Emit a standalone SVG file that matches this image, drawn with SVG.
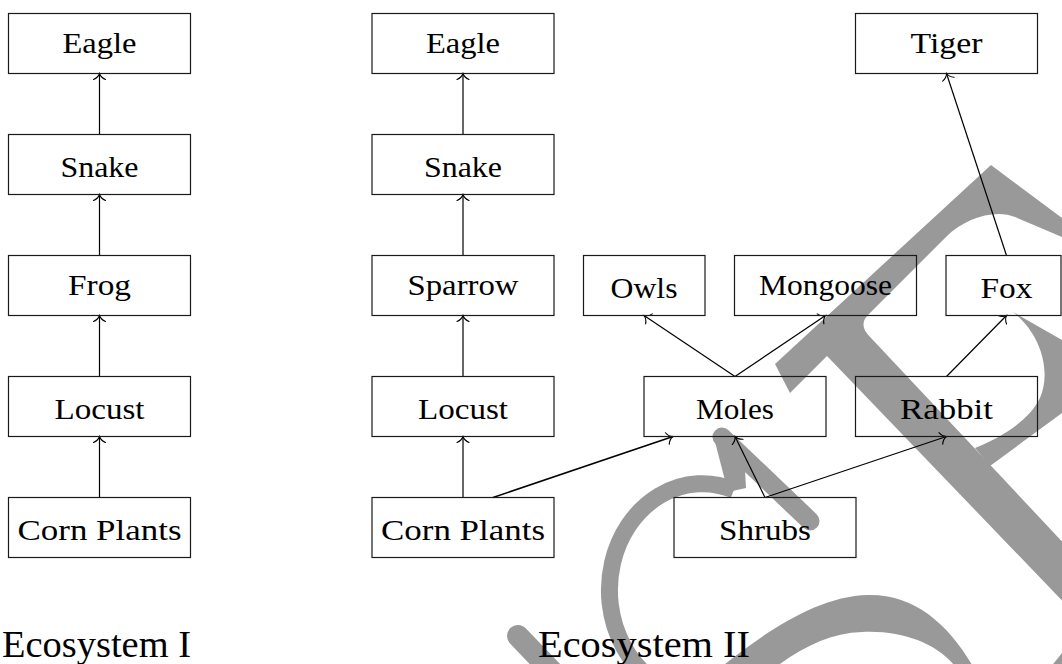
<svg xmlns="http://www.w3.org/2000/svg" width="1062" height="664" viewBox="0 0 1062 664">
<style>
.wm{fill:#999999;stroke:none}
.wms{fill:none;stroke:#999999}
.box{fill:none;stroke:#1a1a1a;stroke-width:1.2}
.lbl{font-family:"Liberation Serif","Times New Roman",serif;font-size:30px;fill:#000;text-anchor:middle}
.ttl{font-family:"Liberation Serif","Times New Roman",serif;font-size:37px;fill:#000}
.edge{fill:none;stroke:#000;stroke-width:1.2;marker-end:url(#arr)}
</style>
<defs>
<marker id="arr" markerUnits="userSpaceOnUse" viewBox="-8 -8 10 16" refX="0" refY="0" markerWidth="10" markerHeight="16" orient="auto" overflow="visible">
<path d="M -6 -6 C -4.5 -2.5 -1.8 -0.6 0 0 C -1.8 0.6 -4.5 2.5 -6 6" fill="none" stroke="#000" stroke-width="1.1" stroke-linecap="round"/>
</marker>
</defs>
<g id="watermark">
<path class="wms" d="M 518 636 L 565 685" stroke-width="22" stroke-linecap="round"/>
<path class="wms" d="M 734 490 A 93 106.5 0 1 0 686 695" stroke-width="17"/>
<path class="wms" d="M 722 437 L 810 521" stroke-width="19" stroke-linecap="round"/>
<path class="wm" d="M 713 434 L 745 470 L 746 488 L 728 492 Z"/>
<path class="wm" d="M 715 672 C 760 636 815 596 868 595 C 915 594 950 625 975 670 L 958 670 C 940 645 905 630 862 632 C 830 633 800 648 772 670 Z"/>
<path class="wm" d="M 775 364 L 991 165 L 1070 224 L 1070 240 L 1062 237 L 1015 217 C 995 209 965 218 946 237 L 868 315 Q 859 324 868 334.7 L 1100 582 L 1100 640 L 827 356 L 790 393 Z"/>
<path class="wm" d="M 1013 312 C 1040 333 1052 370 1040 398 C 1028 422 1000 438 975 448 L 990 466 L 1062 413 L 1100 400 L 1100 330 L 1062 340 Z"/>
<path class="wm" d="M 1050 668 L 1066 648 L 1066 668 Z"/>
</g>
<g id="connectors">
<path class="edge" d="M 99.5 134.5 L 99.5 73.5"/>
<path class="edge" d="M 99.5 255.5 L 99.5 194.5"/>
<path class="edge" d="M 99.5 376.5 L 99.5 315.5"/>
<path class="edge" d="M 99.5 497.5 L 99.5 436.5"/>
<path class="edge" d="M 463 134.5 L 463 73.5"/>
<path class="edge" d="M 463 255.5 L 463 194.5"/>
<path class="edge" d="M 463 376.5 L 463 315.5"/>
<path class="edge" d="M 463 497.5 L 463 436.5"/>
<path class="edge" style="stroke-width:1.6" d="M 493 497.5 L 673 436.5"/>
<path class="edge" d="M 765 497.5 L 735 436.5"/>
<path class="edge" d="M 765 497.5 L 946.5 436.5"/>
<path class="edge" d="M 735 376.5 L 644 315.5"/>
<path class="edge" d="M 735 376.5 L 825.5 315.5"/>
<path class="edge" d="M 946.5 376.5 L 1006.5 315.5"/>
<path class="edge" d="M 1006.5 255.5 L 946.5 73.5"/>
</g>
<g id="eco1-eagle"><rect class="box" x="8.5" y="13.5" width="182" height="60"/><text class="lbl" x="99.5" y="52.5" textLength="74" lengthAdjust="spacingAndGlyphs">Eagle</text></g>
<g id="eco1-snake"><rect class="box" x="8.5" y="134.5" width="182" height="60"/><text class="lbl" x="99.5" y="176.5" textLength="78" lengthAdjust="spacingAndGlyphs">Snake</text></g>
<g id="eco1-frog"><rect class="box" x="8.5" y="255.5" width="182" height="60"/><text class="lbl" x="99.5" y="294.5" textLength="63" lengthAdjust="spacingAndGlyphs">Frog</text></g>
<g id="eco1-locust"><rect class="box" x="8.5" y="376.5" width="182" height="60"/><text class="lbl" x="99.5" y="418.5" textLength="90" lengthAdjust="spacingAndGlyphs">Locust</text></g>
<g id="eco1-corn"><rect class="box" x="8.5" y="497.5" width="182" height="60"/><text class="lbl" x="99.5" y="539.5" textLength="164" lengthAdjust="spacingAndGlyphs">Corn Plants</text></g>
<g id="eco2-eagle"><rect class="box" x="372" y="13.5" width="182" height="60"/><text class="lbl" x="463" y="52.5" textLength="74" lengthAdjust="spacingAndGlyphs">Eagle</text></g>
<g id="eco2-snake"><rect class="box" x="372" y="134.5" width="182" height="60"/><text class="lbl" x="463" y="176.5" textLength="78" lengthAdjust="spacingAndGlyphs">Snake</text></g>
<g id="eco2-sparrow"><rect class="box" x="372" y="255.5" width="182" height="60"/><text class="lbl" x="463" y="294.5" textLength="111" lengthAdjust="spacingAndGlyphs">Sparrow</text></g>
<g id="eco2-locust"><rect class="box" x="372" y="376.5" width="182" height="60"/><text class="lbl" x="463" y="418.5" textLength="90" lengthAdjust="spacingAndGlyphs">Locust</text></g>
<g id="eco2-corn"><rect class="box" x="372" y="497.5" width="182" height="60"/><text class="lbl" x="463" y="539.5" textLength="164" lengthAdjust="spacingAndGlyphs">Corn Plants</text></g>
<g id="eco2-owls"><rect class="box" x="583.5" y="255.5" width="121.5" height="60"/><text class="lbl" x="644" y="297.5" textLength="67" lengthAdjust="spacingAndGlyphs">Owls</text></g>
<g id="eco2-mongoose"><rect class="box" x="734.5" y="255.5" width="182" height="60"/><text class="lbl" x="825.5" y="294.5" textLength="133" lengthAdjust="spacingAndGlyphs">Mongoose</text></g>
<g id="eco2-fox"><rect class="box" x="946" y="255.5" width="115" height="60"/><text class="lbl" x="1006.5" y="297.5" textLength="52" lengthAdjust="spacingAndGlyphs">Fox</text></g>
<g id="eco2-tiger"><rect class="box" x="855.5" y="13.5" width="182" height="60"/><text class="lbl" x="946.5" y="52.5" textLength="72" lengthAdjust="spacingAndGlyphs">Tiger</text></g>
<g id="eco2-moles"><rect class="box" x="644" y="376.5" width="182" height="60"/><text class="lbl" x="735" y="418.5" textLength="78" lengthAdjust="spacingAndGlyphs">Moles</text></g>
<g id="eco2-rabbit"><rect class="box" x="855.5" y="376.5" width="182" height="60"/><text class="lbl" x="946.5" y="418.5" textLength="93" lengthAdjust="spacingAndGlyphs">Rabbit</text></g>
<g id="eco2-shrubs"><rect class="box" x="674" y="497.5" width="182" height="60"/><text class="lbl" x="765" y="539.5" textLength="92" lengthAdjust="spacingAndGlyphs">Shrubs</text></g>
<g id="titles">
<text class="ttl" x="2" y="657" textLength="189" lengthAdjust="spacingAndGlyphs">Ecosystem I</text>
<text class="ttl" x="538" y="657" textLength="212" lengthAdjust="spacingAndGlyphs">Ecosystem II</text>
</g>
</svg>
